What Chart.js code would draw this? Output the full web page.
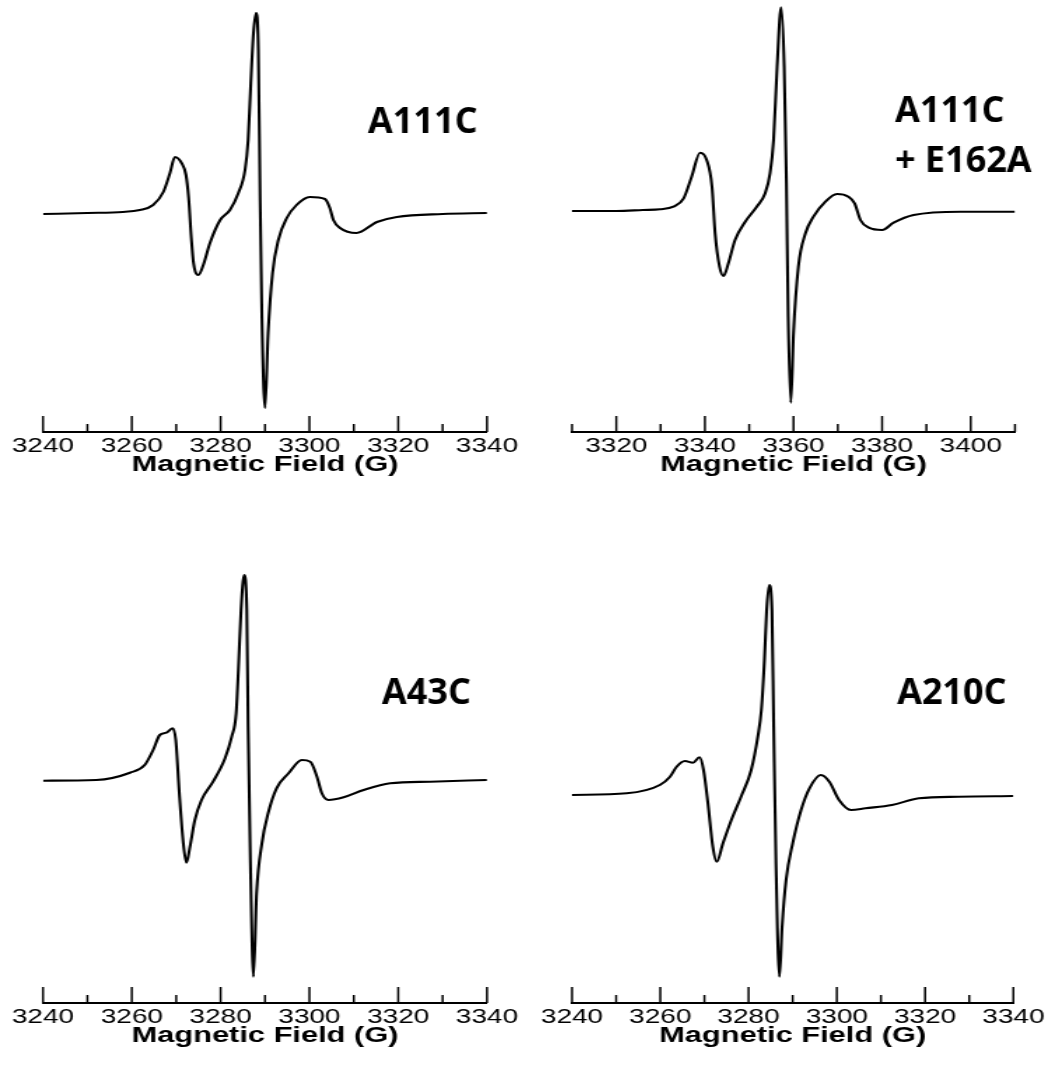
<!DOCTYPE html>
<html>
<head>
<meta charset="utf-8">
<script src="https://cdn.jsdelivr.net/npm/chart.js@4/dist/chart.umd.min.js"></script>
<style>
html, body { margin: 0; padding: 0; background: #ffffff; width: 1051px; height: 1076px; overflow: hidden; }
.panel { position: absolute; transform-origin: 0 0; }
</style>
</head>
<body>
<div class="panel" id="w0"><canvas id="c0"></canvas></div>
<div class="panel" id="w1"><canvas id="c1"></canvas></div>
<div class="panel" id="w2"><canvas id="c2"></canvas></div>
<div class="panel" id="w3"><canvas id="c3"></canvas></div>
<script>
// ---------- DATA ----------
const axisTitle = 'Magnetic Field (G)';

const a111cField  = [3240, 3250, 3258, 3261.8, 3264.8, 3267.1, 3268.6, 3269.7, 3271.2, 3272.2, 3272.8, 3273.4, 3273.9, 3275.0, 3276.1, 3277.6, 3279.9, 3282.1, 3284.0, 3285.5, 3286.2, 3286.8, 3287.4, 3288.0, 3288.5, 3288.9, 3289.3, 3290.0, 3290.7, 3291.7, 3293.0, 3294.9, 3297.1, 3300.1, 3303.5, 3304.6, 3305.4, 3306.9, 3310.6, 3315.2, 3319.7, 3330, 3340];
const a111cSignal = [-1, 0, 1, 3, 8, 21, 40, 56, 50, 38, 15, -25, -50, -62, -52, -30, -7, 3, 20, 43, 73, 130, 180, 200, 163, 13, -104, -195, -120, -60, -27, -5, 8, 16, 14, 5, -7, -15, -20, -9, -4, -1, 0];

const e162aField  = [3310, 3320, 3326, 3329.9, 3332.9, 3335.2, 3337.0, 3338.9, 3340.4, 3341.6, 3342.3, 3343.3, 3344.2, 3345.3, 3346.8, 3349.1, 3351.7, 3353.6, 3354.7, 3355.5, 3356.3, 3357.2, 3357.9, 3358.4, 3358.8, 3359.4, 3360.0, 3361.1, 3362.7, 3364.5, 3367.2, 3369.8, 3372.4, 3373.8, 3375.1, 3377.0, 3380.0, 3382.6, 3387.1, 3397.7, 3410];
const e162aSignal = [0, 0, 1, 1.7, 4.3, 12.7, 34.3, 58.3, 51, 24.3, -22.3, -55.7, -65, -52.3, -29, -10.7, 4.3, 17.7, 37.7, 71, 144.3, 203.7, 144.3, 28, -105.7, -191.7, -122, -55.7, -22.3, -5.7, 9.3, 17, 14.3, 7.7, -9, -16.7, -19, -11.7, -4, -0.7, -0.7];

const a43cField   = [3240, 3252, 3259.6, 3262.9, 3264.8, 3266.3, 3267.8, 3269.2, 3269.9, 3270.7, 3271.6, 3272.3, 3273.1, 3274.2, 3275.7, 3278.3, 3281.0, 3282.5, 3283.5, 3284.0, 3284.6, 3285.3, 3285.9, 3286.2, 3286.7, 3287.4, 3288.1, 3289.3, 3290.7, 3292.6, 3295.3, 3298.3, 3300.2, 3301.7, 3302.8, 3304.3, 3307.7, 3312.2, 3318.2, 3327.2, 3340];
const a43cSignal  = [-0.7, 0, 7.3, 15, 30, 45, 47.3, 51.7, 40, -13.3, -63.3, -82.7, -66.7, -40, -20, -1.7, 21.7, 43.3, 66.7, 110, 170, 205, 170, 53.3, -80, -196.7, -113.3, -63.3, -33.3, -8.3, 6.7, 20, 18.3, 3.3, -13.3, -20, -17.3, -10, -3.3, -1.7, 0];

const a210cField  = [3240, 3252.4, 3259.9, 3262.2, 3263.7, 3265.6, 3267.4, 3268.9, 3269.8, 3270.8, 3271.9, 3272.8, 3274.2, 3276.1, 3278.3, 3280.6, 3282.1, 3282.9, 3283.6, 3284.1, 3284.7, 3285.3, 3285.7, 3286.2, 3287.0, 3287.6, 3288.5, 3290.0, 3291.9, 3293.8, 3296.4, 3298.3, 3300.5, 3303.2, 3306.5, 3312.5, 3318.6, 3327.6, 3340];
const a210cSignal = [1, 2.7, 11, 19.3, 29.3, 35, 33.3, 38.7, 26, -7.3, -50.7, -65.7, -47.3, -24, -0.7, 26, 59.3, 86, 136, 186, 211, 186, 69.3, -64, -180.7, -130.7, -84, -47.3, -14, 7.7, 21, 14.3, -4, -14, -12.3, -9, -2.3, -0.7, 0];

const ticksLow    = [3240, 3260, 3280, 3300, 3320, 3340];
const minorLow    = [3250, 3270, 3290, 3310, 3330];
const ticksHigh   = [3320, 3340, 3360, 3380, 3400];
const minorHigh   = [3310, 3330, 3350, 3370, 3390, 3410];

const labelA111C  = ['A111C'];
const labelE162A  = ['A111C', '+ E162A'];
const labelA43C   = ['A43C'];
const labelA210C  = ['A210C'];

// ---------- LAYOUT ----------
const S = 1.4;            // horizontal stretch of the original figure
const tickFont = 20, tickPad = 4.5, titleFont = 22, titlePadTop = -7;

const panels = [
  { id: 0, field: a111cField, signal: a111cSignal, xMin: 3240, xMax: 3340, major: ticksLow, minor: minorLow, label: labelA111C,
    left: 0, right: 530, top: 0, axisL: 43, axisR: 487, axisY: 432, baseY: 213, labelX: 368, labelY: [133] },
  { id: 1, field: e162aField, signal: e162aSignal, xMin: 3310, xMax: 3410, major: ticksHigh, minor: minorHigh, label: labelE162A,
    left: 530, right: 1051, top: 0, axisL: 572, axisR: 1015, axisY: 432, baseY: 211, labelX: 895, labelY: [122, 172] },
  { id: 2, field: a43cField, signal: a43cSignal, xMin: 3240, xMax: 3340, major: ticksLow, minor: minorLow, label: labelA43C,
    left: 0, right: 530, top: 540, axisL: 43, axisR: 487, axisY: 1003, baseY: 780, labelX: 382, labelY: [704] },
  { id: 3, field: a210cField, signal: a210cSignal, xMin: 3240, xMax: 3340, major: ticksLow, minor: minorLow, label: labelA210C,
    left: 530, right: 1051, top: 540, axisL: 572, axisR: 1015, axisY: 1003, baseY: 796, labelX: 897, labelY: [704] }
];

const innerTicks = {
  id: 'innerTicks',
  afterDraw(chart, args, o) {
    const xs = chart.scales.x, ctx = chart.ctx, y0 = xs.top;
    ctx.save();
    ctx.strokeStyle = '#000';
    ctx.lineWidth = 1.5;
    ctx.beginPath();
    o.major.forEach(v => { const x = xs.getPixelForValue(v); ctx.moveTo(x, y0); ctx.lineTo(x, y0 - 16); });
    o.minor.forEach(v => { const x = xs.getPixelForValue(v); ctx.moveTo(x, y0); ctx.lineTo(x, y0 - 8); });
    ctx.stroke();
    ctx.restore();
  }
};

const sampleLabel = {
  id: 'sampleLabel',
  afterDraw(chart, args, o) {
    const ctx = chart.ctx;
    ctx.save();
    ctx.fillStyle = '#000';
    ctx.font = 'bold 36px "Open Sans", "Noto Sans", sans-serif';
    ctx.textBaseline = 'alphabetic';
    ctx.textAlign = 'left';
    o.lines.forEach((t, i) => {
      ctx.save();
      ctx.translate(o.x, o.y[i]);
      ctx.scale(1 / S, 1);
      ctx.fillText(t, 0, 0);
      ctx.restore();
    });
    ctx.restore();
  }
};

panels.forEach(p => {
  const wrap = document.getElementById('w' + p.id);
  const canvas = document.getElementById('c' + p.id);
  const cw = Math.round((p.right - p.left) / S);
  const axisHeight = (tickFont + 2 * tickPad) + (titleFont + titlePadTop);
  const ch = Math.ceil((p.axisY - p.top) + axisHeight);
  canvas.width = cw; canvas.height = ch;
  canvas.style.width = cw + 'px'; canvas.style.height = ch + 'px';
  wrap.style.left = p.left + 'px';
  wrap.style.top = p.top + 'px';
  wrap.style.width = cw + 'px';
  wrap.style.height = ch + 'px';
  wrap.style.transform = 'scaleX(' + S + ')';
  const padL = (p.axisL - p.left) / S;
  const padR = cw - (p.axisR - p.left) / S;
  const padB = ch - ((p.axisY - p.top) + axisHeight);

  new Chart(canvas, {
    type: 'line',
    data: {
      datasets: [{
        data: p.field.map((x, i) => ({ x: x, y: p.signal[i] })),
        borderColor: '#000',
        borderWidth: 2.1,
        pointRadius: 0,
        fill: false,
        cubicInterpolationMode: 'monotone'
      }]
    },
    options: {
      responsive: false,
      animation: false,
      events: [],
      layout: { padding: { left: padL, right: padR, top: 0, bottom: padB } },
      plugins: {
        legend: { display: false },
        tooltip: { enabled: false },
        title: { display: false },
        innerTicks: { major: p.major, minor: p.minor },
        sampleLabel: { lines: p.label, x: (p.labelX - p.left) / S, y: p.labelY.map(v => v - p.top) }
      },
      scales: {
        x: {
          type: 'linear',
          min: p.xMin, max: p.xMax,
          afterBuildTicks: sc => { sc.ticks = p.major.map(v => ({ value: v })); },
          grid: { display: true, drawOnChartArea: false, drawTicks: false },
          border: { display: true, color: '#000', width: 2 },
          ticks: {
            autoSkip: false, maxRotation: 0, padding: tickPad, color: '#000',
            font: { family: '"Liberation Sans", Arial, sans-serif', size: tickFont, lineHeight: 1 },
            callback: v => String(v)
          },
          title: {
            display: true, text: axisTitle, color: '#000',
            font: { family: '"Liberation Sans", Arial, sans-serif', size: titleFont, weight: 'bold', lineHeight: 1 },
            padding: { top: titlePadTop, bottom: 0 }
          }
        },
        y: {
          display: false,
          min: p.baseY - p.axisY,
          max: p.baseY - p.top
        }
      }
    },
    plugins: [innerTicks, sampleLabel]
  });
});
</script>
</body>
</html>
